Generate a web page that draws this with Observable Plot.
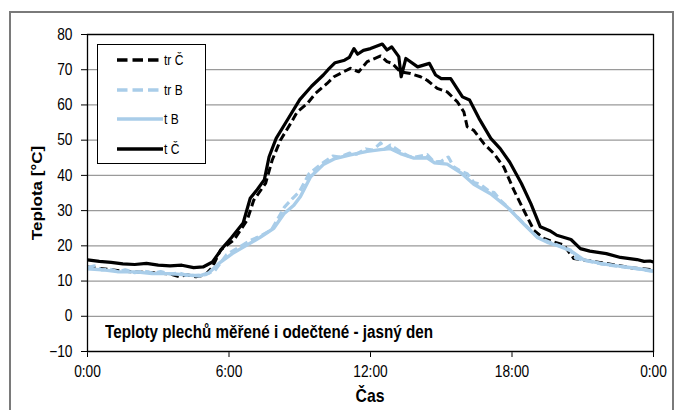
<!DOCTYPE html>
<html><head><meta charset="utf-8">
<script src="https://cdn.jsdelivr.net/npm/d3@7"></script>
<script src="https://cdn.jsdelivr.net/npm/@observablehq/plot@0.6"></script>
<style>
body{margin:0;background:#fff;}
#wrap{position:relative;width:675px;height:410px;overflow:hidden;font-family:"Liberation Sans",Arial,sans-serif;}
#frame{position:absolute;left:9px;top:11px;width:661px;height:430px;border:2px solid #7a7a7a;}
#chart{position:absolute;left:0;top:0;}
#legend{position:absolute;left:97px;top:44px;width:107px;height:118px;border:1.2px solid #000;background:#fff;}
.ttl{position:absolute;font-weight:bold;white-space:nowrap;color:#000;}
</style></head><body>
<div id="wrap"><div id="frame"></div><div id="chart"></div>
<div id="legend"></div>
<div class="ttl" id="note" style="left:105px;top:322px;font-size:18px;transform-origin:0 50%;transform:scaleX(0.846);">Teploty plechů měřené i odečtené - jasný den</div>
<div class="ttl" id="xt" style="left:370px;top:385px;font-size:19px;transform:translateX(-50%) scaleX(0.83);">Čas</div>
<div class="ttl" id="yt" style="left:37px;top:193px;font-size:17px;transform:translate(-50%,-50%) rotate(-90deg) scaleY(0.9);">Teplota [°C]</div>
</div>
<script>
// tick labels / categories
const xTicks = [0, 6, 12, 18, 24];
const yTicks = [-10, 0, 10, 20, 30, 40, 50, 60, 70, 80];
const seriesNames = ["tr Č", "tr B", "t B", "t Č"];

// tr Č (dashed black)
const trC_t = [0,0.5,1,1.5,2,2.5,3,3.5,3.9,4.2,4.6,5.0,5.3,5.64,6.2,6.77,7.05,7.55,7.83,8.18,8.61,8.89,9.32,9.67,10.16,10.45,11.15,11.5,11.86,12.43,12.7,12.92,13.27,13.7,14.12,14.4,14.83,15.25,15.68,15.96,16.1,16.38,16.81,17.23,17.65,18.08,18.5,18.93,19.35,19.78,20.2,20.62,21.33,22.18,23.03,23.5,23.85,24];
const trC_v = [14.0,13.6,13.2,12.8,12.6,12.5,12.2,12.0,11.2,11.8,11.2,11.8,14,18.8,21.6,27.3,33,37.7,44.3,50,54.7,58,60.4,63.3,66.1,68,70.4,69.4,72.3,73.9,72.3,71.8,69.4,68.9,68,67,64.7,63.7,60.9,58,53.8,52.8,49,46.2,42.4,35.8,30.1,24.4,22.1,21.1,20.2,16.4,15.7,14.8,13.8,13.5,13.3,13.2];

// tr B (dashed light blue)
const trB_t = [0,0.3,0.6,1,1.3,1.6,2,2.4,2.8,3.1,3.5,3.9,4.2,4.6,5.0,5.4,5.9,6.4,6.9,7.4,7.8,8.1,8.35,8.7,9.0,9.4,9.9,10.4,10.7,11.1,11.4,11.8,12.1,12.43,12.6,12.85,13.27,13.6,13.84,14.4,14.7,15.0,15.3,15.53,15.82,16.1,16.38,16.67,17.09,17.23,17.5,17.8,18.5,19.07,19.5,20,20.48,20.7,21.05,21.76,22.46,23.17,23.85,24];
const trB_v = [13.8,14.3,13.2,13.3,12.6,13.2,12.4,12.8,12.2,12.7,12,12.3,11.6,11.6,11.8,13,17.5,19.5,21.5,23,24.5,28,31,33.5,35.5,40.5,43.2,45.5,45.2,46.3,46,47.5,47.2,49.2,47.5,48.6,46.7,45.5,45.1,45.9,43.8,44,45.2,42.4,41.2,40.5,38,37.4,35.2,35.2,33,31.1,26.3,22.5,21.3,20.0,18.8,16.5,15.9,14.9,14.2,13.6,12.9,12.8];

// t B (solid light blue)
const tB_t = [0,0.76,1.33,2.04,2.74,3.45,4.16,4.72,5.14,5.57,6.14,6.63,7.34,7.9,8.33,8.75,9.03,9.46,10.02,10.5,11.15,11.86,12.43,12.85,13.27,13.84,14.4,14.7,15.25,15.82,16.38,17.09,17.8,18.5,19.07,19.5,20,20.48,21.05,21.76,22.46,23.17,23.85,24];
const tB_v = [13.5,13.1,12.6,12.6,12.1,12.1,11.8,11.4,12.3,15,17.8,19.7,22.5,25,29.1,31.5,34,39.6,43.2,44.8,45.8,46.8,47.3,47.6,46.2,44.9,45,43.6,43.2,40.8,37.5,34.8,31,26.2,22.4,21,19.9,18.6,16,15,14.3,13.7,13,12.8];

// t Č (solid black)
const tC_t = [0,0.5,1,1.5,2,2.5,3,3.5,4,4.5,4.9,5.3,5.7,6.1,6.6,6.9,7.2,7.5,7.7,8.0,8.5,9.0,9.5,10.0,10.2,10.5,10.9,11.1,11.3,11.45,11.7,12.0,12.5,12.7,12.9,13.2,13.3,13.5,14.0,14.5,14.76,15.0,15.4,15.9,16.2,16.6,17.1,17.5,17.9,18.4,18.8,19.2,19.6,19.9,20.5,20.9,21.3,22.0,22.6,23.3,23.6,23.85,24];
const tC_v = [16.0,15.6,15.3,14.9,14.7,15.0,14.5,14.3,14.5,13.8,14.0,15.4,19.2,22.3,26.5,33.5,36,38.8,45.3,50.5,56,61.5,65.3,68.5,70,72,72.7,73.5,76,74.4,75.5,76,77.3,75.6,76.5,73.7,68,73.2,70.8,71.8,68.5,67.5,67.5,62.3,61.4,56.2,50.5,47.6,43.8,37.7,32,25.4,24.3,23,21.8,19.2,18.5,17.8,16.7,16.1,15.6,15.7,15.4];

const black = "#000000", blue = "#a9cde9";
const styles = {
  "tr Č": {stroke: black, dash: "8,4", w: 3},
  "tr B": {stroke: blue, dash: "8,4", w: 3.2},
  "t B":  {stroke: blue, dash: null, w: 3.4},
  "t Č":  {stroke: black, dash: null, w: 3.2}
};
const rows = (ts, vs) => ts.map((t, i) => ({t, v: vs[i]}));
const data = {
  "tr Č": rows(trC_t, trC_v),
  "tr B": rows(trB_t, trB_v),
  "t B": rows(tB_t, tB_v),
  "t Č": rows(tC_t, tC_v)
};

const font = '"Liberation Sans",Arial,sans-serif';
const chart = Plot.plot({
  width: 675, height: 410,
  marginLeft: 87, marginRight: 22, marginTop: 34, marginBottom: 59,
  style: {fontFamily: font, fontSize: "16px", background: "transparent", color: "#000"},
  x: {domain: [0, 24], ticks: xTicks, tickFormat: d => (d % 24) + ":00", label: null, tickSize: 6, tickPadding: 8},
  y: {domain: [-10, 80], ticks: yTicks, label: null, tickSize: 6, tickPadding: 9},
  marks: [
    Plot.ruleY(yTicks, {stroke: "#9a9a9a", strokeWidth: 1.3}),
    ...seriesNames.map(n => Plot.line(data[n], {
      x: "t", y: "v", stroke: styles[n].stroke, strokeWidth: styles[n].w,
      strokeDasharray: styles[n].dash, strokeLinejoin: "round", strokeLinecap: "butt"
    })),
    Plot.frame({stroke: "#000", strokeWidth: 1.3})
  ]
});
document.getElementById("chart").appendChild(chart);
// condense tick labels horizontally (reference is narrow type)
d3.select(chart).selectAll('g[aria-label$="tick label"] text').each(function() {
  const tr = this.getAttribute("transform") || "";
  this.setAttribute("transform", tr + " scale(0.86,1)");
});

// legend
const leg = d3.select("#legend");
const lsvg = leg.append("svg").attr("width", 107).attr("height", 118).style("position","absolute").style("left","0").style("top","0");
const ly = [15, 45, 74, 104];
seriesNames.forEach((n, i) => {
  lsvg.append("line").attr("x1", 19).attr("x2", 65).attr("y1", ly[i]).attr("y2", ly[i])
    .attr("stroke", styles[n].stroke).attr("stroke-width", 3.3)
    .attr("stroke-dasharray", styles[n].dash ? "10.5,5" : null);
  lsvg.append("text").attr("transform", `translate(66,${ly[i]}) scale(0.8,1)`).attr("dy", "0.36em")
    .attr("font-family", font).attr("font-size", 15).text(n);
});
</script>
</body></html>
